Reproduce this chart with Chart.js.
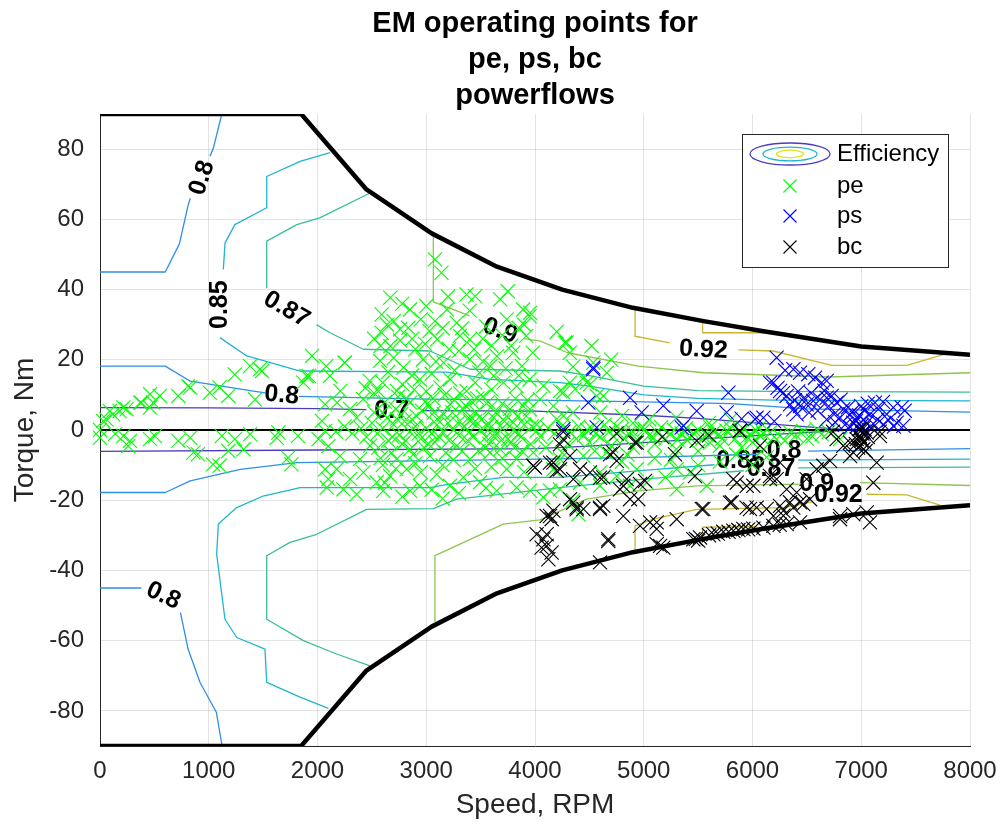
<!DOCTYPE html>
<html>
<head>
<meta charset="utf-8">
<script src="https://cdn.jsdelivr.net/npm/chart.js@4"></script>
<style>
  html, body { margin: 0; background: #fff; }
  #wrap { width: 1002px; height: 830px; }
</style>
</head>
<body>
<div id="wrap"><canvas id="c" width="1002" height="830"></canvas></div>
<script>
const titleLines = ['EM operating points for', 'pe, ps, bc', 'powerflows'];
const speedTicks = [0, 1000, 2000, 3000, 4000, 5000, 6000, 7000, 8000];
const torqueTicks = [-80, -60, -40, -20, 0, 20, 40, 60, 80];

// torque limit envelope of the machine
const limitUpper = [[0,90],[1850,90],[2450,68.5],[3050,56],[3650,46.5],[4250,40],[4900,34.8],[5550,31],[6100,28.1],[7000,23.8],[8000,21.4]];
const limitLower = [[0,-90],[1850,-90],[2450,-68.5],[3050,-56],[3650,-46.5],[4250,-40],[4900,-34.8],[5550,-31],[6100,-28.1],[7000,-23.8],[8000,-21.4]];
const zeroLine = [[0,0],[8000,0]];

// efficiency contours, one list of polylines per level (gaps where the labels sit)
const eff070 = [
  [[0,6.4],[1000,6.3],[2000,6.1],[2450,5.8]],
  [[2960,5.5],[4000,5.4],[5000,4.2],[5500,3.3],[6000,2.1],[6600,0.7],[6900,0],[6400,-0.9],[5500,-2.6],[4500,-4.6],[4000,-5.3],[2000,-5.7],[0,-6.1]]
];
const eff080 = [
  [[0,45],[600,45],[730,53],[810,64],[830,66]],
  [[1010,78],[1040,80],[1120,90]],
  [[0,18.2],[600,18.2],[830,13.9],[1410,11.1],[1520,10.6]],
  [[1830,9.6],[3000,8.8],[4000,8.5],[5000,8],[5800,7.5],[6500,6],[8000,5.1]],
  [[8000,-5.3],[6510,-6]],
  [[6060,-6.9],[5000,-7.8],[4050,-8.3],[1810,-9.3],[1290,-11.2],[830,-14.5],[600,-17.8],[0,-17.8]],
  [[0,-45],[380,-45]],
  [[740,-52],[810,-62.4],[920,-71.9],[1070,-80.4],[1120,-89.5]]
];
const eff085 = [
  [[2115,79],[1840,76.5],[1533,72.2],[1533,63.3],[1240,58.5],[1150,53.3],[1134,45.7]],
  [[1103,26.3],[1350,21.1],[1840,16.8],[3190,16.5],[3590,14.4],[4230,13.5],[4500,12.5],[5000,10],[5500,9],[6200,8.5],[8000,8.3]],
  [[8000,-8.3],[6420,-8.6]],
  [[5650,-9.9],[5000,-11.5],[4230,-13.5],[3710,-13.5],[3200,-15.5],[3034,-16.4],[1840,-16.4],[1500,-18.8],[1257,-22.1],[1088,-26.8],[1073,-35.4],[1149,-53.9],[1257,-59.1],[1517,-62.4],[1533,-71.9],[1840,-76.1],[2100,-79.3]]
];
const eff087 = [
  [[2483,67.5],[2020,60.4],[1810,58.5],[1533,53.8],[1533,40.5]],
  [[1990,30],[2115,27.7],[2422,23],[3034,22.5],[3402,17.3],[4230,16.8],[4500,15.5],[5000,12.5],[5500,11.2],[6200,11],[8000,10.8]],
  [[8000,-10.6],[6420,-10.8]],
  [[5920,-11.6],[5000,-14],[4230,-16.4],[3280,-19.7],[3065,-22.4],[2452,-22.6],[1993,-29.7],[1747,-32],[1533,-35.8],[1533,-53.9],[1870,-60],[2176,-63.8],[2483,-67.2]]
];
const eff090 = [
  [[3065,55],[3065,36.5],[3400,32.5]],
  [[3900,26],[4050,25.3],[4300,22],[4950,18.2],[5550,16.3],[6700,15.1],[8000,16.3]],
  [[8000,-15.8],[6990,-15]],
  [[6450,-15.4],[5490,-15.9],[4935,-17.4],[4475,-19.7],[4046,-25.6],[3708,-26.8],[3080,-35.8],[3080,-54.5]]
];
const eff092 = [
  [[4920,34],[4920,26.7],[5240,24.8]],
  [[5870,22.8],[6190,22.5],[6730,18.4],[7420,18.4],[7755,21.5]],
  [[5541,30.4],[5541,27.7],[6100,27.7]],
  [[4920,-34],[4920,-27.3],[5088,-25.4],[5487,-22.6],[6283,-22.1],[6550,-20.5]],
  [[7050,-18.3],[7418,-18.5],[7724,-21.4]],
  [[5541,-30.2],[5541,-27.7],[6038,-27.5]]
];
const levelColors = ['#4a3cc0', '#2f8fe8', '#1fb5cf', '#38be9c', '#8cc550', '#c8b632'];

const labelText   = ['0.8', '0.85', '0.87', '0.9', '0.8', '0.7', '0.92', '0.8', '0.85', '0.87', '0.8', '0.9', '0.92'];
const labelSpeed  = [938, 1103, 1716, 3678, 1671, 2682, 5548, 582, 5890, 6170, 6290, 6590, 6790];
const labelTorque = [71.8, 35.7, 34.3, 28.2, 9.9, 5.4, 22.8, -47.2, -9, -11.2, -5.9, -15.4, -18.6];
const labelAngle  = [-72, -90, 30, 20, 5, 0, 3, 25, 0, 0, 0, 0, 0];

// operating points
const pePoints = [
  [0,0],[60,3],[120,4.5],[180,5.4],[245,5.9],[30,2.6],[90,5.4],[215,6.4],[370,7.8],[460,6.4],[380,7.8],[460,10.2],[490,7.8],[550,9.7],[720,9.7],[810,12.5],[830,12.1],[1010,10.6],[1100,12.1],[1180,9.7],[1380,18.2],[1470,17.3],[1425,8.7],[1240,15.8],[1490,16.8],[1870,13.5],[1900,15.4],[1920,15.4],[1950,21.1],[2080,18.2],[2115,15.4],[2250,19.2],[2070,7.3],[2040,2.6],[2070,-0.3],[2010,-2.6],[2100,-4.6],[2100,-14],[2085,-16.4],[2070,-11.2],[2180,7.8],
  [215,-1.7],[260,-4.6],[275,-3.1],[140,-1.1],[0,-2.2],[460,-2.6],[505,-1.7],[720,-3.1],[830,-2.2],[860,-6.4],[900,-6.9],[1040,-9.8],[1100,-10.2],[1180,-6],[1240,-2.6],[1320,-5.5],[1380,-1.2],[1120,-1.7],[1640,-0.7],[1625,-2.2],[1820,-1.7],[1730,-7.9],[1760,-9.8],
  [3080,48.6],[3140,44.8],[2670,37.7],[2590,32.9],[2850,34.3],[3000,35.3],[3190,34.3],[3370,38.6],[3450,38.1],[3680,37.2],[3750,39.5],[3890,34.3],[3950,32.4],[3280,30.5],[2760,28.7],[2835,29.1],[2590,27.7],[3030,28.2],[3100,25.8],[3310,26.8],[3400,25.8],[3740,31.5],[3850,29.1],[3920,26.8],[2670,23.9],[2900,23],[2575,19.7],[2790,17.8],[2970,20.1],[3160,19.2],[3400,20.1],[3590,18.2],[3800,22],[3880,18.2],[3950,14.4],[2250,19.2],[2210,11.1],[2420,8.8],[2600,13.5],[2730,11.1],[2940,14.4],[3130,12.1],[3220,14.4],[3370,11.1],[3490,16.3],[3620,15.4],[3710,13.5],[3830,12.5],[2850,7.8],[3030,6.9],[3220,7.3],[3340,5.9],[3460,5],[3590,6.4],[3740,4],[3890,6.9],[2600,5],[2730,3.1],[2910,4],[3100,3.1],[3400,2.6],[3560,1.2],[3800,2.1],[4015,-0.3],
  [2520,26],[2700,31],[2950,31.5],[3150,29],[3550,29.5],[3600,24],[2480,14],[2650,16.5],[3050,16],[3300,22.5],[3650,21],[3980,22],
  [2580,24],[2640,30],[2760,25.5],[2870,26],[2990,24.5],[3080,31],[3210,23],[3330,29],[3440,23],[3520,26],[3700,27],[3780,24],[3900,30],[2700,20.5],[2870,15.5],[3090,19.5],[3260,17],[3520,19.5],[3730,17.5],[2560,11],[2780,13],[3000,11],[3450,13.5],[3600,11.5],[3850,15.5],[3400,34],[3200,38],[2780,36],
  [2500,2],[2550,-1],[2600,0.5],[2650,-3],[2700,1.5],[2750,-1.5],[2800,2.5],[2850,-0.5],[2900,1],[2950,-2.5],[3000,0.5],[3050,-1],[3100,1.5],[3150,-0.5],[3200,2],[3250,0],[3300,-1.5],[3350,1],[3400,-0.5],[3450,2.5],[3500,0],[3550,-2],[3600,1],[3650,-1],[3700,0.5],[3750,-2.5],[3800,0],[3850,-1],[3900,1.5],
  [2520,5],[2620,8],[2720,6],[2820,9],[2960,5.5],[3060,9],[3160,4.5],[3260,8.5],[3310,10.5],[3420,8],[3520,9.5],[3620,3.5],[3700,7.5],[3820,9],[3920,4],
  [2520,10.5],[2580,-8],[2640,3.5],[2690,-2],[2740,9.5],[2770,4.5],[2810,-3],[2870,3],[2890,11.5],[2930,-1],[2990,8],[3020,-4],[3070,5],[3120,-2],[3170,10],[3210,-3],[3240,5],[3290,2],[3330,-6],[3360,7],[3390,3.5],[3430,-2],[3470,9],[3510,3],[3540,-5],[3570,8],[3610,-1.5],[3640,5],[3690,-3],[3720,2.5],[3770,6],[3810,-5],[3840,4],[3870,-2],[3930,8.5],[3970,1],
  [2560,-5],[2680,-6.5],[2780,-4],[2880,-7],[2980,-5],[3080,-3.5],[3180,-6.5],[3280,-4.5],[3380,-3],[3480,-6],[3580,-4],[3680,-5.5],[3780,-3.5],[3880,-6],[3960,-4],[2170,-0.5],[2250,1],[2320,-1],[2400,0.5],[2450,-2],[2360,3.5],[2300,6],[2440,12],
  [2720,-11],[2900,-9.5],[3250,-8.5],[3450,-11],[3700,-8],[3900,-12],[2620,-15],[3050,-17],[3300,-18],[3550,-16.5],[2780,-19],[3150,-19.5],
  [2176,-11.2],[2238,-16.9],[2360,-18.3],[2422,-12.1],[2544,-14.9],[2605,-17.3],[2667,-13.1],[2820,-11.2],[2851,-17.3],[2943,-15.9],[3096,-12.6],[3218,-15.9],[3341,-13.5],[3494,-14.9],[3648,-17.3],[3740,-11.2],[3831,-16.4],[3954,-17.3],[4077,-19.2],[4138,-17.3],[2207,-7.4],[2391,-8.3],[2728,-8.3],[3034,-7.4],[3402,-8.3],[3586,-6.4],[3831,-8.3],[3985,-6.4],[2483,-4.5],[2851,-5.5],[2600,-10],[3150,-10],[3600,-10.5],[2950,-12],[2300,-14],
  [3954,33.4],[4290,24.9],[4320,22],[4520,23.9],[4536,19.2],[4660,16.3],[4320,13.5],[4260,10.7],[4077,12.6],[3954,5.9],[4046,8.8],[4567,9.7],[4475,13.5],[4199,3.1],[4015,1.6],[4276,24.9],[4506,13],[4368,11.6],[4230,11.1],[4628,9.7],[4169,6.8],[4261,4],
  [4400,1],[4450,-1.5],[4520,0.5],[4600,-2],[4680,-0.5],[4750,1],[4820,-2.5],[4900,-0.5],[4980,0.5],[5050,-1.5],[5120,-0.5],[5200,-2.5],[5280,0],[5350,-1],[5420,-2],[5500,0],[5580,-1.5],[5650,-0.5],[5720,-2.5],[5800,0.5],[5880,-1],[5950,-2],[6030,0],[6100,-1],[6161,-0.7],[6253,-1.7],[6345,-0.7],[6467,-0.3],[6590,0.2],[6636,-1.2],[6100,-5.5],[6130,-7.8],[6805,-2.6],[6069,-1.7],
  [4050,-2],[4120,0.5],[4180,-1],[4250,1.2],[4320,-0.5],[4380,-2.5],[4480,0],[4560,-1],[4640,1.5],[4720,-1.8],[4790,0],[4860,-1],[4940,-2.8],[5010,0.3],[5090,-2.2],[5160,0.8],[5240,-1.2],[5310,-2.8],[5390,0.5],[5460,-1],[5540,-2.4],[5610,0.8],[5690,-1.2],[5760,-0.2],[5840,-2.5],[5920,0.2],[5990,-1.5],[6060,0.6],[6200,-2],[6400,-1.5],[6550,-1.8],[6700,-0.5],
  [4100,-5],[4250,-6.5],[4550,-6],[4850,-7],[5250,-8.5],[5500,-10],[5850,-7],[6000,-10],[4600,5],[4900,2],[5300,3.5],[5800,3],[4450,15],[4700,20],[4350,18],[4200,28],
  [4230,-8.3],[4445,-7.4],[4659,-6.4],[4935,-11.2],[5027,-15],[5303,-16.9],[5303,-11.2],[5425,-12.1],[5579,-15.9],[5609,-3.6],[4230,-16.9],[4414,-15],[4598,-15.9],[4751,-13.1],[4874,-15.9],[4169,-11.2],[4300,-4],[4500,-3.5],[4700,-4.5],[4900,-5],[5100,-4],[5300,-5.5],[5500,-6],[5700,-4.5],[5900,-5],[4350,-20],[4600,-12],[5100,-8],[5700,-9],[4800,-9],[5200,-13.5],[4400,-24],[5400,-3],[6000,-3.5],[6300,-3],[6500,-2.5],[5050,3],[5600,2],[4800,4],[4350,5]
];
const psPoints = [
  [4536,17.8],[4490,7.8],[4874,9.2],[4981,5],[5180,6.9],[5487,5.4],[5778,10.6],[5762,5],[6038,3.5],[6023,3.1],[6222,20.6],[5364,1.2],[4567,0.7],[4260,0.2],[6161,13.5],[4536,17.3],[5349,0.7],
  [6376,17.3],[6437,16.3],[6513,15.9],[6575,14.9],[6636,13.5],[6682,14],[6192,13.5],[6253,11.1],[6314,9.7],[6345,7.3],[6376,5.9],[6406,4.5],[6437,6.8],[6498,7.3],[6559,8.3],[6621,8.7],[6682,9.2],[6728,9.7],[6774,7.8],[6835,5.9],[6897,4.5],[6958,3.5],[7019,3],[7080,4.5],[7126,7.8],[7157,5.9],[7234,4.5],[7295,6.4],[7372,6.4],[7387,1.2],[7326,2.1],[7203,1.6],[6927,2.1],[6100,3.5],[6682,3],[6805,3.5],
  [6850,1.5],[6900,0.8],[6950,2.5],[7000,1.2],[7050,2],[7100,0.5],[7150,3],[6980,4.2],[7030,5.5],[6880,6.5],[6600,5.5],[6520,5],[6470,9],[6280,10.5],[6230,12],[6300,17],[6420,11],[6700,6.8],[6750,4.5],[7060,7.5],[7200,8],[7300,1],[7400,5.5],[6200,2.5],[5900,3.2],[6980,0.3],[7020,-0.5],
  [6390,8.5],[6540,10.5],[6660,11.2],[6810,8.6],[6920,5.2],[7000,6.8],[6760,2.2],[7110,1.8],[7250,2.8],[6960,1]
];
const bcPoints = [
  [4000,-10.7],[4169,-9.3],[4199,-11.6],[4107,-24.5],[4153,-25.4],[4015,-29.7],[4077,-31.1],[4061,-33.5],[4123,-36.8],[4674,-31.6],[4598,-37.7],[4260,-2.6],[4138,-9.3],[4230,-11.2],[4352,-14],[4506,-12.1],[4628,-13.5],[4720,-6.4],[4935,-3.6],[4812,-15.9],[4322,-19.7],[4383,-22.6],[4598,-22.1],[4138,-24.5],[4874,-19.7],[4966,-15.4],[3985,-10.2],
  [4230,-4.1],[4322,-7.4],[4414,-11.2],[4445,-22.5],[4598,-13.6],[4628,-21.6],[4690,-6.9],[4751,-8.8],[4782,-16.9],[5012,-14.5],[4950,-19.7],[4920,-3.6],[5287,-6.9],[5487,-3.1],[5471,-13.1],[5885,-0.3],[5855,-15],[5947,-15.9],[5809,-20.6],[5548,-22.5],[5977,-22.5],[5303,-25.4],[5058,-26.3],[4169,-23],
  [5119,-32.5],[5180,-33.5],[5456,-31.1],[5517,-30.6],[5640,-29.7],[5732,-29],[5824,-28.7],[5916,-28.2],[6008,-28.1],[6192,-27.3],[6314,-26.8],[6437,-26.3],[6805,-24.5],[6927,-24],[7050,-23.5],[5150,-33],[5480,-31],[5500,-31.5],[5600,-30],[5680,-29.5],[5780,-29],[5870,-28.5],[5960,-28.3],[6100,-27.8],[6250,-27],
  [4107,-29.7],[4107,-33],[4153,-34.9],[4674,-31.1],[4812,-24.5],[4966,-27.3],[5119,-28.2],[5119,-26.3],[5533,-22.5],[5793,-20.7],[5946,-22.1],[6038,-22.1],[6192,-24.5],[6284,-23],[6375,-22.1],[6467,-21.1],[6529,-19.7],[6253,-21.6],[4383,-22.1],[4598,-22.5],[4352,-20.7],[5824,-14],[6008,-15.9],[6161,-14],[7111,-15],[4843,-14],
  [6774,-2.6],[6835,-4.5],[6897,-3.6],[6988,0.2],[6958,-2.6],[6988,-4.5],[7019,-5.5],[6927,-6.4],[6897,-7.4],[6988,-1.7],[7050,-0.7],[7172,-1.7],[7142,-9.3],[6713,-8.8],[6651,-10.2],[6590,-11.2],[6498,-14],[6406,-17.8],[6345,-20.6],[6222,-14],[6161,-13.1],[6314,-16.9],[6130,-22.5],[6437,-20.6],[6284,-24.4],[6805,-25.4],[7080,-26.3],[6069,-4.5],[6253,-9.3],
  [7000,-3],[7010,-1],[6970,-5],[7030,-3.5],[7040,-6],[6950,-4],[7020,0.5],[6990,-2.2],[7060,-2],
  [4260,-0.5],[5880,-0.3],[6740,-0.5],[7170,-0.5],[4750,-1],[5170,-2],[5600,-1.5]
];

const FONT = '"Liberation Sans", Arial, Helvetica, sans-serif';
const AXIS_COLOR = '#262626';

const toXY = pts => pts.map(p => ({ x: p[0], y: p[1] }));

function scatterSet(label, pts, color) {
  return {
    label, data: toXY(pts), showLine: false, clip: false,
    pointStyle: 'crossRot', pointRadius: 10, pointHoverRadius: 10,
    pointBorderWidth: 1.1, borderColor: color, backgroundColor: color,
  };
}

function lineSet(label, pts, color, width) {
  return {
    label, data: toXY(pts), showLine: true, fill: false, tension: 0,
    pointRadius: 0, pointHoverRadius: 0, borderColor: color, borderWidth: width,
    borderJoinStyle: 'round',
  };
}

const datasets = [
  scatterSet('bc', bcPoints, '#000000'),
  scatterSet('ps', psPoints, '#0000ff'),
  scatterSet('pe', pePoints, '#00ff00'),
  lineSet('limitUpper', limitUpper, '#000000', 4.5),
  lineSet('limitLower', limitLower, '#000000', 4.5),
  lineSet('zero', zeroLine, '#000000', 2),
];
[eff070, eff080, eff085, eff087, eff090, eff092].forEach((level, i) => {
  level.forEach(seg => datasets.push(lineSet('Efficiency', seg, levelColors[i], 1.3)));
});

// title centred over the axes, three lines
const axesTitle = {
  id: 'axesTitle',
  afterDraw(chart) {
    const { ctx, chartArea } = chart;
    const cx = (chartArea.left + chartArea.right) / 2;
    ctx.save();
    ctx.font = 'bold 29px ' + FONT;
    ctx.fillStyle = '#000';
    ctx.textAlign = 'center';
    ctx.textBaseline = 'middle';
    titleLines.forEach((t, i) => ctx.fillText(t, cx, 24 + i * 36));
    ctx.restore();
  }
};

// contour labels like MATLAB clabel
const contourLabels = {
  id: 'contourLabels',
  beforeDatasetsDraw(chart) {
    const { ctx, scales: { x, y } } = chart;
    ctx.save();
    ctx.font = 'bold 25px ' + FONT;
    ctx.fillStyle = '#000';
    ctx.textAlign = 'center';
    ctx.textBaseline = 'middle';
    labelText.forEach((t, i) => {
      ctx.save();
      ctx.translate(x.getPixelForValue(labelSpeed[i]), y.getPixelForValue(labelTorque[i]));
      ctx.rotate(labelAngle[i] * Math.PI / 180);
      ctx.fillText(t, 0, 0);
      ctx.restore();
    });
    ctx.restore();
  }
};

// legend box in the upper right corner of the axes
const boxLegend = {
  id: 'boxLegend',
  afterDraw(chart) {
    const { ctx, chartArea } = chart;
    const w = 206, h = 133;
    const left = chartArea.right - 22 - w;
    const top = chartArea.top + 20;
    ctx.save();
    ctx.fillStyle = '#fff';
    ctx.fillRect(left, top, w, h);
    ctx.strokeStyle = AXIS_COLOR;
    ctx.lineWidth = 1;
    ctx.strokeRect(left + 0.5, top + 0.5, w, h);

    const mx = left + 48, tx = left + 95;
    const rows = [top + 20, top + 52, top + 82, top + 113];
    const rings = [[40, 11, levelColors[0]], [27, 6.8, levelColors[2]], [13.5, 3.8, '#e8e020']];
    rings.forEach(([rx, ry, c]) => {
      ctx.beginPath();
      ctx.ellipse(mx, rows[0], rx, ry, 0, 0, Math.PI * 2);
      ctx.strokeStyle = c;
      ctx.lineWidth = 1.3;
      ctx.stroke();
    });
    const marks = [['#00ff00', 'pe'], ['#0000ff', 'ps'], ['#000000', 'bc']];
    marks.forEach(([c], i) => {
      const yy = rows[i + 1], r = 6.5;
      ctx.beginPath();
      ctx.moveTo(mx - r, yy - r); ctx.lineTo(mx + r, yy + r);
      ctx.moveTo(mx - r, yy + r); ctx.lineTo(mx + r, yy - r);
      ctx.strokeStyle = c;
      ctx.lineWidth = 1.1;
      ctx.stroke();
    });
    ctx.fillStyle = '#000';
    ctx.font = '24px ' + FONT;
    ctx.textAlign = 'left';
    ctx.textBaseline = 'middle';
    ctx.fillText('Efficiency', tx, rows[0]);
    marks.forEach(([, t], i) => ctx.fillText(t, tx, rows[i + 1]));
    ctx.restore();
  }
};

new Chart(document.getElementById('c'), {
  type: 'scatter',
  data: { datasets },
  options: {
    responsive: false,
    animation: false,
    devicePixelRatio: 1,
    events: [],
    layout: { padding: { top: 114, right: 32, bottom: 0, left: 0 } },
    plugins: {
      legend: { display: false },
      tooltip: { enabled: false },
      title: { display: false },
    },
    scales: {
      x: {
        type: 'linear', min: 0, max: 8000,
        afterBuildTicks: s => { s.ticks = speedTicks.map(v => ({ value: v })); },
        afterFit: s => { s.height = 84; s.paddingLeft = 0; s.paddingRight = 0; },
        grid: { color: 'rgba(38,38,38,0.13)', drawTicks: false },
        border: { color: AXIS_COLOR, width: 1 },
        ticks: { color: AXIS_COLOR, font: { family: FONT, size: 24 }, padding: 11, maxRotation: 0, callback: v => String(v) },
        title: { display: true, text: 'Speed, RPM', color: AXIS_COLOR, font: { family: FONT, size: 28 }, padding: { top: 0, bottom: 8 } },
      },
      y: {
        type: 'linear', min: -90, max: 90,
        afterBuildTicks: s => { s.ticks = torqueTicks.map(v => ({ value: v })); },
        afterFit: s => { s.width = 100; s.paddingTop = 0; s.paddingBottom = 0; },
        grid: { color: 'rgba(38,38,38,0.13)', drawTicks: false },
        border: { color: AXIS_COLOR, width: 1 },
        ticks: { color: AXIS_COLOR, font: { family: FONT, size: 24 }, padding: 16, callback: v => String(v) },
        title: { display: true, text: 'Torque, Nm', color: AXIS_COLOR, font: { family: FONT, size: 28 }, padding: { top: 8, bottom: 0 } },
      },
    },
  },
  plugins: [contourLabels, boxLegend, axesTitle],
});
</script>
</body>
</html>
